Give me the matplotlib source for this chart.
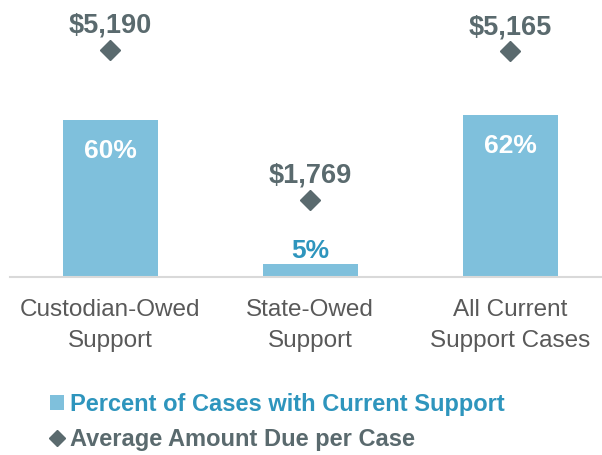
import matplotlib.pyplot as plt
from matplotlib.patches import Patch
from matplotlib.lines import Line2D
import numpy as np

categories = ["Custodian-Owed\nSupport", "State-Owed\nSupport", "All Current\nSupport Cases"]
pct_current = [60, 5, 62]
avg_due = [5190, 1769, 5165]
pct_labels = ["60%", "5%", "62%"]
due_labels = ["$5,190", "$1,769", "$5,165"]

bar_color = "#7FC0DC"
gray = "#5A6A6E"
blue_text = "#2E95BD"
cat_color = "#595959"

plt.rcParams["font.family"] = ["Liberation Sans", "DejaVu Sans"]

fig = plt.figure(figsize=(6.02, 4.55), dpi=100)
ax = fig.add_axes([10 / 602, 1 - 277 / 455, 1 - 10 / 602, 262 / 455])
x = np.arange(len(categories))

ax.bar(x, pct_current, width=0.475, color=bar_color, zorder=2)
ax.set_ylim(0, 100)
ax.set_xlim(-0.5, 2.46)
for s in ["top", "left", "right"]:
    ax.spines[s].set_visible(False)
ax.spines["bottom"].set_color("#D9D9D9")
ax.spines["bottom"].set_linewidth(1.5)
ax.set_yticks([])
ax.set_xticks(x)
ax.set_xticklabels(categories, fontsize=17.5, color=cat_color, linespacing=1.5)
ax.tick_params(axis="x", length=0, pad=16)

for i in range(len(x)):
    if pct_current[i] > 20:
        ax.text(x[i], pct_current[i] - 12, pct_labels[i], ha="center", va="center",
                fontsize=19, fontweight="bold", color="white", zorder=3)
    else:
        ax.text(x[i], pct_current[i] + 5, pct_labels[i], ha="center", va="center",
                fontsize=19, fontweight="bold", color=blue_text, zorder=3)

ax2 = ax.twinx()
ax2.set_ylim(0, 6000)
ax2.set_yticks([])
for s in ["top", "left", "right", "bottom"]:
    ax2.spines[s].set_visible(False)
ax2.plot(x, avg_due, linestyle="none", marker="D", markersize=10, color=gray, zorder=3)
for i in range(len(x)):
    ax2.text(x[i], avg_due[i] + 560, due_labels[i], ha="center", va="center",
             fontsize=19.5, fontweight="bold", color=gray)

handles = [
    Patch(facecolor=bar_color, edgecolor="none"),
    Line2D([], [], linestyle="none", marker="D", markersize=8, color=gray),
]
leg = fig.legend(handles, ["Percent of Cases with Current Support", "Average Amount Due per Case"],
                 loc="upper left", bbox_to_anchor=(50 / 602, 1 - 393 / 455), frameon=False,
                 prop={"size": 17, "weight": "bold"}, handlelength=0.6, handleheight=0.6,
                 handletextpad=0.25, labelspacing=0.5, borderaxespad=0, borderpad=0)
leg.get_texts()[0].set_color(blue_text)
leg.get_texts()[1].set_color(gray)

fig.savefig("out.png", dpi=100)
